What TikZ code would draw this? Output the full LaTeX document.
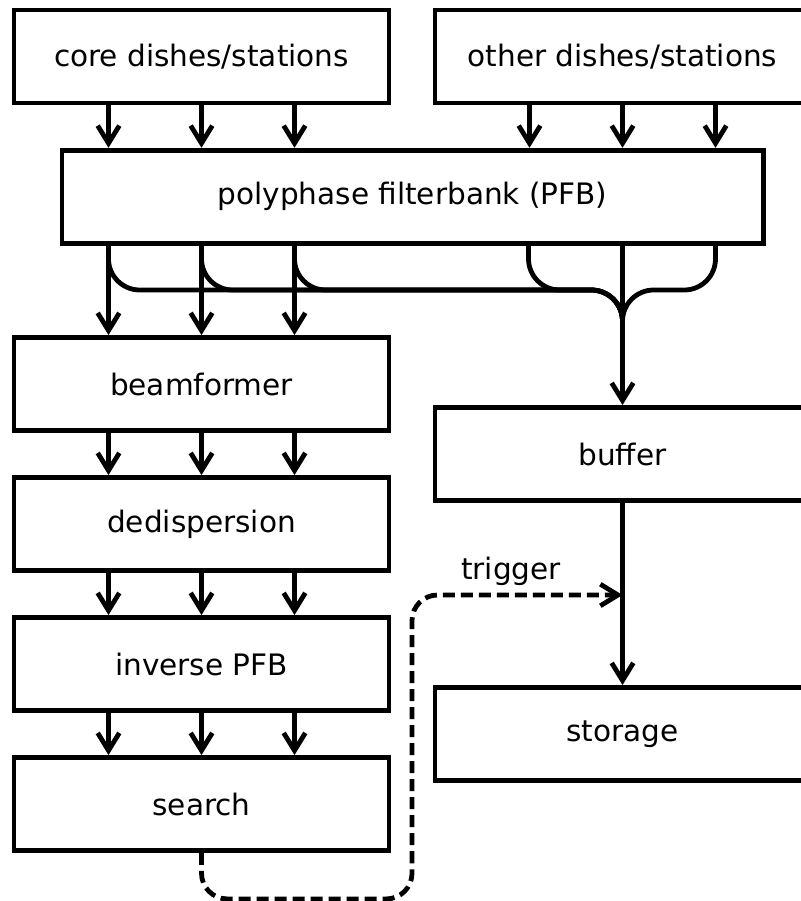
\documentclass[tikz,border=0pt]{standalone}
\usepackage{fontspec}
\setmainfont{DejaVu Sans}
\usetikzlibrary{arrows.meta,calc}

\begin{document}
\begin{tikzpicture}[
    x=0.0125cm, y=-0.0125cm,
    line width=1.7pt,
    block/.style={rectangle, draw, line width=1.7pt, inner sep=0pt, minimum width=4.6875cm, minimum height=1.1625cm, font=\fontsize{10.5}{12}\selectfont},
    wideblock/.style={block, minimum width=8.7625cm},
    flow/.style={-{Straight Barb[length=0.22cm,width=0.27cm,line width=1.7pt]}},
    merge/.style={rounded corners=0.39cm},
    trig/.style={flow, dash pattern=on 0.15cm off 0.075cm, rounded corners=0.32cm}
    ]
    \useasboundingbox (0,0) rectangle (800,901);

    \node (core)  [block] at (201.5,56.5) {core dishes/stations};
    \node (other) [block] at (622.5,56.5) {other dishes/stations};
    \node (pfb)   [wideblock] at (412.5,196.75) {polyphase filterbank (PFB)};
    \node (beam)  [block] at (201.5,384) {beamformer};
    \node (dedisp) [block] at (201.5,524) {dedispersion};
    \node (ipfb)  [block] at (201.5,664) {inverse PFB};
    \node (search) [block] at (201.5,804) {search};
    \node (buffer) [block] at (622.5,454) {buffer};
    \node (storage) [block] at (622.5,734) {storage};

    \coordinate (join) at (622.5,290);
    \coordinate (tap) at (622.5,595);

    \foreach \dx in {-93,0,93} {
      \draw[flow] ($(core.south)+(\dx,0)$) -- ($(pfb.north -| core.south)+(\dx,0)$);
      \draw[flow] ($(other.south)+(\dx,0)$) -- ($(pfb.north -| other.south)+(\dx,0)$);
      \draw[flow] ($(pfb.south -| beam.north)+(\dx,0)$) -- ($(beam.north)+(\dx,0)$);
      \draw[merge] ($(pfb.south -| beam.north)+(\dx,0)$) |- (join) -- ($(join)+(0,40)$);
      \draw[flow] ($(beam.south)+(\dx,0)$) -- ($(dedisp.north)+(\dx,0)$);
      \draw[flow] ($(dedisp.south)+(\dx,0)$) -- ($(ipfb.north)+(\dx,0)$);
      \draw[flow] ($(ipfb.south)+(\dx,0)$) -- ($(search.north)+(\dx,0)$);
    }
    \draw[merge] ($(pfb.south -| buffer.north)+(-94,0)$) |- (join) -- ($(join)+(0,40)$);
    \draw[merge] ($(pfb.south -| buffer.north)+(93,0)$) |- (join) -- ($(join)+(0,40)$);
    \draw[flow] (pfb.south -| buffer.north) -- (buffer.north);
    \draw (buffer.south) -- (tap);
    \draw[flow] (tap) -- (storage.north);

    \draw[trig] (search.south) -- ++(0,46) -| (412,595) -- (tap)
      node[pos=0.47, above=-1pt, font=\fontsize{10.5}{12}\selectfont] (triglabel) {trigger};
\end{tikzpicture}
\end{document}
